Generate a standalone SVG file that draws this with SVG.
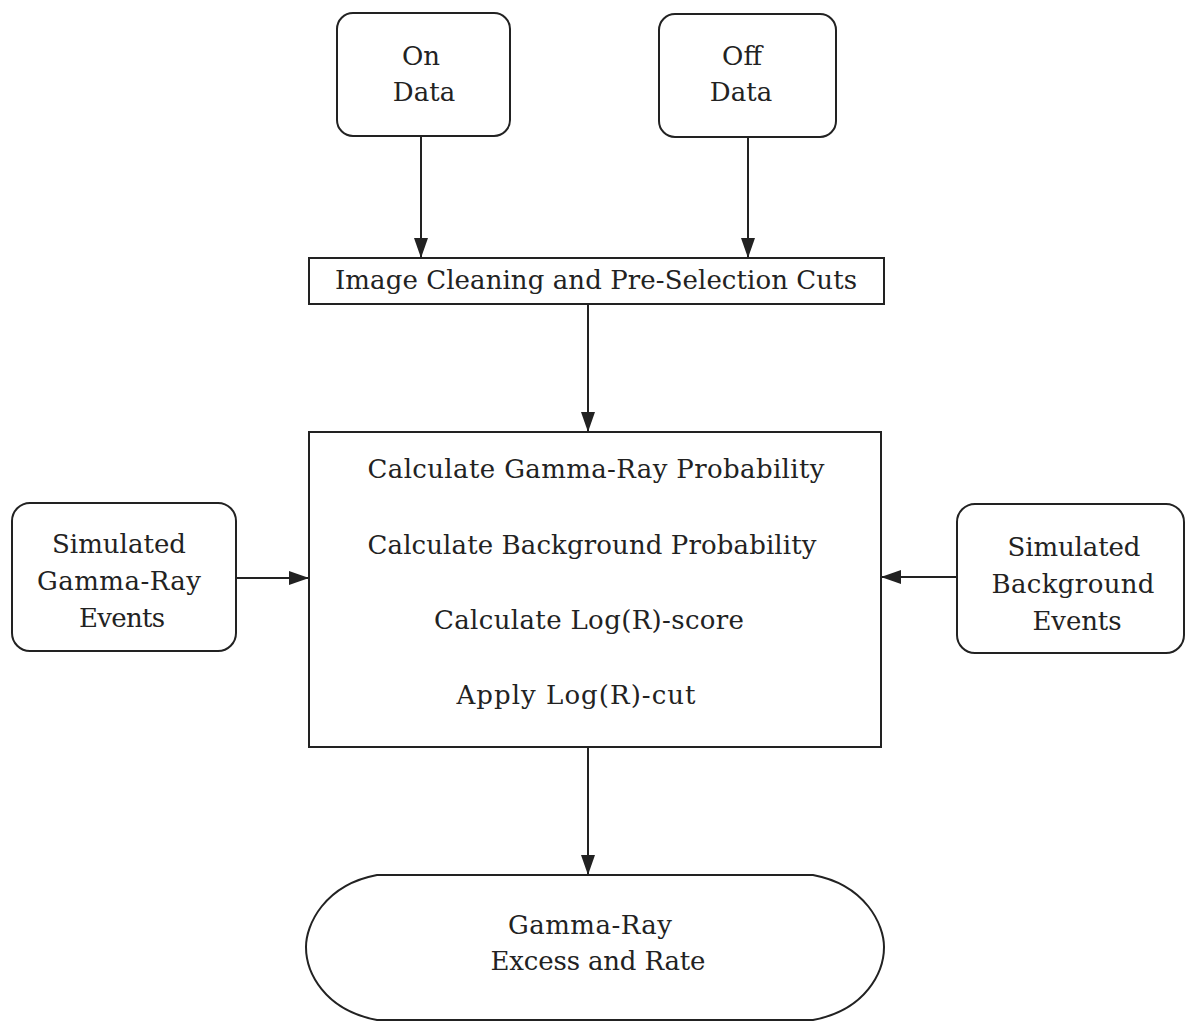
<svg xmlns="http://www.w3.org/2000/svg" width="1192" height="1022" viewBox="0 0 1192 1022">
<style>
.box{fill:#fff;stroke:#222;stroke-width:2}
.t{font-family:"DejaVu Serif","Liberation Serif",serif;font-size:26px;fill:#222;text-anchor:middle}
.c{stroke:#222;stroke-width:2;fill:none}
</style>
<defs>
<marker id="ah" markerWidth="20" markerHeight="14" refX="20" refY="7" orient="auto" markerUnits="userSpaceOnUse">
<path d="M0,0 L20,7 L0,14 Z" fill="#222"/>
</marker>
</defs>
<rect width="1192" height="1022" fill="#fff"/>
<g id="connectors">
<line class="c" x1="421" y1="137" x2="421" y2="258" marker-end="url(#ah)"/>
<line class="c" x1="748" y1="137" x2="748" y2="258" marker-end="url(#ah)"/>
<line class="c" x1="588" y1="304" x2="588" y2="432" marker-end="url(#ah)"/>
<line class="c" x1="236" y1="578" x2="309" y2="578" marker-end="url(#ah)"/>
<line class="c" x1="957" y1="577" x2="881" y2="577" marker-end="url(#ah)"/>
<line class="c" x1="588" y1="748" x2="588" y2="875" marker-end="url(#ah)"/>
</g>
<g id="on-data">
<rect class="box" x="337" y="13" width="173" height="123" rx="16"/>
<text class="t" x="421" y="65">On</text>
<text class="t" x="424" y="101">Data</text>
</g>
<g id="off-data">
<rect class="box" x="659" y="14" width="177" height="123" rx="16"/>
<text class="t" x="742" y="65">Off</text>
<text class="t" x="741" y="101">Data</text>
</g>
<g id="cleaning">
<rect class="box" x="309" y="258" width="575" height="46"/>
<text class="t" x="596" y="289" textLength="522">Image Cleaning and Pre-Selection Cuts</text>
</g>
<g id="main">
<rect class="box" x="309" y="432" width="572" height="315"/>
<text class="t" x="596" y="478" textLength="457">Calculate Gamma-Ray Probability</text>
<text class="t" x="592" y="554" textLength="449">Calculate Background Probability</text>
<text class="t" x="589" y="629" textLength="310">Calculate Log(R)-score</text>
<text class="t" x="576" y="704" textLength="239">Apply Log(R)-cut</text>
</g>
<g id="sim-gamma">
<rect class="box" x="12" y="503" width="224" height="148" rx="18"/>
<text class="t" x="119" y="553" textLength="134">Simulated</text>
<text class="t" x="119" y="590" textLength="164">Gamma-Ray</text>
<text class="t" x="122" y="627" textLength="86">Events</text>
</g>
<g id="sim-bg">
<rect class="box" x="957" y="504" width="227" height="149" rx="18"/>
<text class="t" x="1074" y="556" textLength="133">Simulated</text>
<text class="t" x="1073" y="593" textLength="163">Background</text>
<text class="t" x="1077" y="630" textLength="89">Events</text>
</g>
<g id="result">
<path class="box" d="M377,875 L813,875 C866,885 884,925 884,947 C884,972 866,1010 813,1020 L377,1020 C324,1010 306,972 306,947 C306,925 324,885 377,875 Z"/>
<text class="t" x="590" y="934" textLength="164">Gamma-Ray</text>
<text class="t" x="598" y="970" textLength="215">Excess and Rate</text>
</g>
</svg>
